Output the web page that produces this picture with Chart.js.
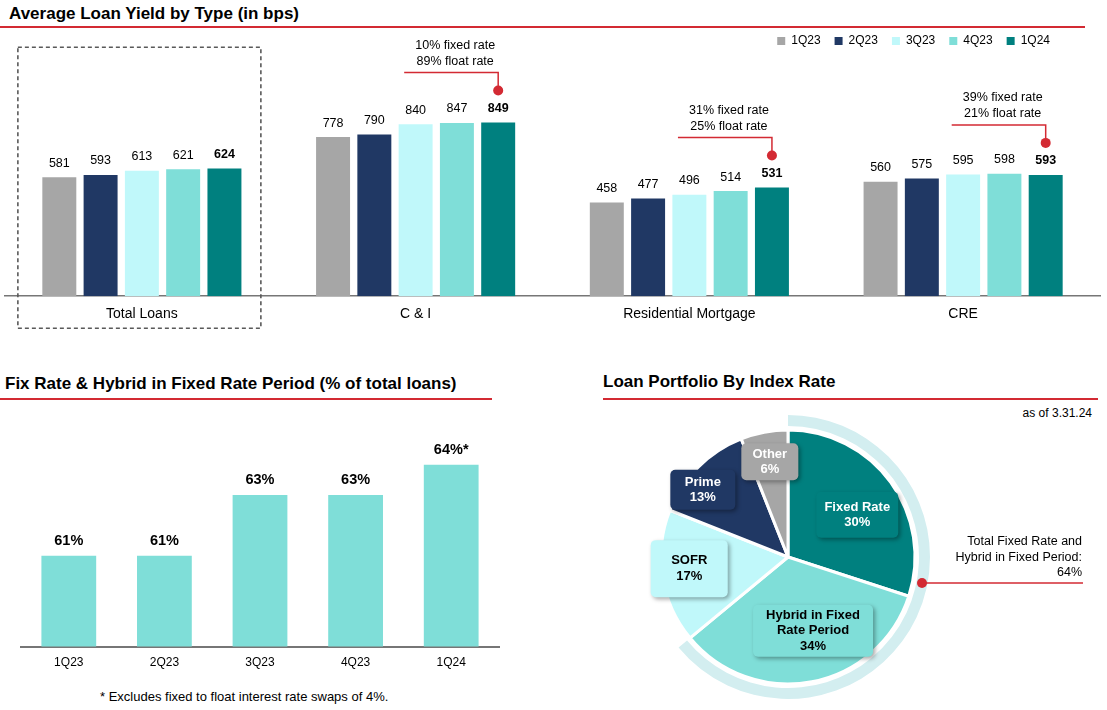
<!DOCTYPE html>
<html>
<head>
<meta charset="utf-8">
<script src="https://cdn.jsdelivr.net/npm/chart.js@4.4.1/dist/chart.umd.min.js"></script>
<style>
  body { margin: 0; width: 1107px; height: 710px; position: relative; background: #fff; overflow: hidden;
         font-family: "Liberation Sans", Arial, sans-serif; color: #000; }
  .title { position: absolute; font-weight: bold; font-size: 17px; white-space: nowrap; }
  .rule { position: absolute; height: 2px; background: #d32a33; }
  .note { position: absolute; font-size: 12px; white-space: nowrap; }
  canvas { position: absolute; }
</style>
</head>
<body>
<div class="title" style="left:9px;top:4px;">Average Loan Yield by Type (in bps)</div>
<div class="rule" style="left:0;top:26px;width:1085px;"></div>

<div class="title" style="left:5px;top:374px;">Fix Rate &amp; Hybrid in Fixed Rate Period (% of total loans)</div>
<div class="rule" style="left:0;top:398px;width:492px;"></div>

<div class="title" style="left:603px;top:372px;">Loan Portfolio By Index Rate</div>
<div class="rule" style="left:603px;top:398px;width:495px;"></div>
<div class="note" style="right:15px;top:406px;">as of 3.31.24</div>

<div class="note" style="left:100px;top:689px;font-size:13px;">* Excludes fixed to float interest rate swaps of 4%.</div>

<canvas id="yieldChart" width="1107" height="317" style="left:0;top:18px;"></canvas>
<canvas id="fixedChart" width="510" height="266" style="left:0;top:405px;"></canvas>
<canvas id="indexChart" width="507" height="305" style="left:600px;top:405px;"></canvas>

<script>
const loanTypes = ["Total Loans", "C & I", "Residential Mortgage", "CRE"];
const quarters = ["1Q23", "2Q23", "3Q23", "4Q23", "1Q24"];
const yield1Q23 = [581, 778, 458, 560];
const yield2Q23 = [593, 790, 477, 575];
const yield3Q23 = [613, 840, 496, 595];
const yield4Q23 = [621, 847, 514, 598];
const yield1Q24 = [624, 849, 531, 593];
const rateNotes = [null, ["10% fixed rate", "89% float rate"], ["31% fixed rate", "25% float rate"], ["39% fixed rate", "21% float rate"]];

const fixedQuarters = ["1Q23", "2Q23", "3Q23", "4Q23", "1Q24"];
const fixedShare = [61, 61, 63, 63, 64];
const fixedLabels = ["61%", "61%", "63%", "63%", "64%*"];

const indexNames = [["Fixed Rate"], ["Hybrid in Fixed", "Rate Period"], ["SOFR"], ["Prime"], ["Other"]];
const indexShare = [30, 34, 17, 13, 6];
const totalFixedText = ["Total Fixed Rate and", "Hybrid in Fixed Period:", "64%"];

const quarterColors = ["#a6a6a6", "#203864", "#c0f8fa", "#7fded8", "#00807f"];
const indexColors = ["#00807f", "#7fded8", "#c0f8fa", "#203864", "#a6a6a6"];
const RED = "#d32a33";

Chart.defaults.font.family = '"Liberation Sans", Arial, sans-serif';
Chart.defaults.color = "#000";
Chart.defaults.animation = false;

// value labels on top of bars
const valueLabels = {
  id: "valueLabels",
  afterDatasetsDraw(chart, args, opts) {
    const ctx = chart.ctx;
    chart.data.datasets.forEach((ds, i) => {
      chart.getDatasetMeta(i).data.forEach((bar, j) => {
        ctx.save();
        ctx.font = opts.font(i);
        ctx.fillStyle = "#000";
        ctx.textAlign = "center";
        ctx.textBaseline = "middle";
        ctx.fillText(opts.text(ds, i, j), bar.x, bar.y - opts.offset);
        ctx.restore();
      });
    });
  }
};

// nudge the legend, it sits a bit off the right edge in the original
const legendShift = {
  id: "legendShift",
  afterLayout(chart, args, opts) {
    chart.legend.left -= opts.dx;
    chart.legend.right -= opts.dx;
    chart.legend.top += opts.dy;
    chart.legend.bottom += opts.dy;
  }
};

// red callouts + dashed box on the yield chart
const yieldExtras = {
  id: "yieldExtras",
  afterDraw(chart) {
    const ctx = chart.ctx;
    const x = chart.scales.x;
    const bottom = chart.chartArea.bottom;
    ctx.save();
    ctx.strokeStyle = "#595959";
    ctx.lineWidth = 1.6;
    ctx.setLineDash([4, 3]);
    const cx = x.getPixelForValue(0);
    ctx.strokeRect(cx - 124, bottom - 249, 243, 281);
    ctx.restore();

    const meta = chart.getDatasetMeta(4);
    rateNotes.forEach((lines, j) => {
      if (!lines) return;
      const bar = meta.data[j];
      const dotY = bar.y - 32;
      const lineY = dotY - 18;
      ctx.save();
      ctx.strokeStyle = RED;
      ctx.fillStyle = RED;
      ctx.lineWidth = 1.5;
      ctx.beginPath();
      ctx.moveTo(bar.x - 94, lineY);
      ctx.lineTo(bar.x, lineY);
      ctx.lineTo(bar.x, dotY);
      ctx.stroke();
      ctx.beginPath();
      ctx.arc(bar.x, dotY, 5, 0, Math.PI * 2);
      ctx.fill();
      ctx.fillStyle = "#000";
      ctx.font = "12.5px 'Liberation Sans', Arial";
      ctx.textAlign = "center";
      ctx.textBaseline = "middle";
      ctx.fillText(lines[0], bar.x - 43, lineY - 27);
      ctx.fillText(lines[1], bar.x - 43, lineY - 11);
      ctx.restore();
    });
  }
};

new Chart("yieldChart", {
  type: "bar",
  data: {
    labels: loanTypes,
    datasets: [yield1Q23, yield2Q23, yield3Q23, yield4Q23, yield1Q24].map((d, i) => ({
      label: quarters[i],
      data: d,
      backgroundColor: quarterColors[i],
      categoryPercentage: 0.754,
      barPercentage: 0.823
    }))
  },
  options: {
    responsive: false,
    layout: { padding: { left: 5, right: 7, bottom: 10 } },
    plugins: {
      legend: {
        position: "top",
        align: "end",
        labels: { boxWidth: 8, boxHeight: 8, padding: 14, font: { size: 12 }, color: "#000" }
      },
      legendShift: { dx: 36, dy: 3 },
      tooltip: { enabled: false },
      valueLabels: {
        offset: 14,
        font: (i) => (i === 4 ? "bold 12.5px 'Liberation Sans', Arial" : "12.5px 'Liberation Sans', Arial"),
        text: (ds, i, j) => String(ds.data[j])
      }
    },
    scales: {
      x: {
        grid: { display: false },
        border: { color: "#767676", width: 1.5 },
        ticks: { font: { size: 14 }, color: "#000", padding: 2 }
      },
      y: { display: false, min: 0, max: 1184 }
    }
  },
  plugins: [valueLabels, legendShift, yieldExtras]
});

new Chart("fixedChart", {
  type: "bar",
  data: {
    labels: fixedQuarters,
    datasets: [{
      data: fixedShare,
      backgroundColor: "#7fded8",
      categoryPercentage: 1,
      barPercentage: 0.573
    }]
  },
  options: {
    responsive: false,
    layout: { padding: { left: 21, right: 11, top: 10, bottom: 0 } },
    plugins: {
      legend: { display: false },
      tooltip: { enabled: false },
      valueLabels: {
        offset: 15,
        font: () => "bold 14.5px 'Liberation Sans', Arial",
        text: (ds, i, j) => fixedLabels[j]
      }
    },
    scales: {
      x: {
        grid: { display: false },
        border: { color: "#767676", width: 2 },
        ticks: { font: { size: 12 }, color: "#000", padding: 1 }
      },
      y: { display: false, min: 58, max: 65.64 }
    }
  },
  plugins: [valueLabels]
});

// label boxes for the pie and the total fixed callout
const pieLabels = {
  id: "pieLabels",
  afterDraw(chart, args, opts) {
    const ctx = chart.ctx;
    const arcs = chart.getDatasetMeta(2).data;
    arcs.forEach((arc, i) => {
      const p = opts.place[i];
      const mid = (arc.startAngle + arc.endAngle) / 2;
      const cx = arc.x + Math.cos(mid) * p.r + p.dx;
      const cy = arc.y + Math.sin(mid) * p.r + p.dy;
      const lines = indexNames[i].concat([indexShare[i] + "%"]);
      ctx.save();
      ctx.shadowColor = "rgba(0,0,0,0.35)";
      ctx.shadowBlur = 4;
      ctx.shadowOffsetX = 2;
      ctx.shadowOffsetY = 2;
      ctx.fillStyle = indexColors[i];
      ctx.beginPath();
      ctx.roundRect(cx - p.w / 2, cy - p.h / 2, p.w, p.h, 5);
      ctx.fill();
      ctx.restore();
      ctx.save();
      ctx.fillStyle = p.light ? "#fff" : "#000";
      ctx.font = "bold 13px 'Liberation Sans', Arial";
      ctx.textAlign = "center";
      ctx.textBaseline = "middle";
      const lh = 15.5;
      lines.forEach((t, k) => {
        ctx.fillText(t, cx, cy + (k - (lines.length - 1) / 2) * lh);
      });
      ctx.restore();
    });

    const ring = chart.getDatasetMeta(0).data[0];
    const ang = (opts.calloutDeg - 90) * Math.PI / 180;
    const rr = (ring.outerRadius + ring.innerRadius) / 2;
    const dx = ring.x + Math.cos(ang) * rr;
    const dy = ring.y + Math.sin(ang) * rr;
    ctx.save();
    ctx.strokeStyle = RED;
    ctx.fillStyle = RED;
    ctx.lineWidth = 1.5;
    ctx.beginPath();
    ctx.moveTo(dx, dy);
    ctx.lineTo(dx + 161, dy);
    ctx.stroke();
    ctx.beginPath();
    ctx.arc(dx, dy, 5, 0, Math.PI * 2);
    ctx.fill();
    ctx.fillStyle = "#000";
    ctx.font = "12.5px 'Liberation Sans', Arial";
    ctx.textAlign = "right";
    ctx.textBaseline = "middle";
    totalFixedText.forEach((t, k) => ctx.fillText(t, dx + 160, dy - 41 + k * 15.5));
    ctx.restore();
  }
};

const fixedTotal = indexShare[0] + indexShare[1];
new Chart("indexChart", {
  type: "pie",
  data: {
    labels: indexNames.map((n) => n.join(" ")),
    datasets: [
      { data: [fixedTotal, 100 - fixedTotal], backgroundColor: ["#d3eef0", "rgba(0,0,0,0)"], borderWidth: 0, weight: 11 },
      { data: [100], backgroundColor: ["rgba(0,0,0,0)"], borderWidth: 0, weight: 4 },
      { data: indexShare, backgroundColor: indexColors, borderColor: "#fff", borderWidth: 3, weight: 127 }
    ]
  },
  options: {
    responsive: false,
    radius: 142,
    layout: { padding: { left: 46, right: 177, top: 10, bottom: 11 } },
    plugins: {
      legend: { display: false },
      tooltip: { enabled: false },
      pieLabels: {
        calloutDeg: 101,
        place: [
          { r: 72, dx: 11, dy: 0, w: 82, h: 46, light: true },
          { r: 75, dx: 11, dy: 0, w: 120, h: 52, light: false },
          { r: 100, dx: 0, dy: -4, w: 77, h: 57, light: false },
          { r: 95, dx: -18, dy: 0, w: 65, h: 40, light: true },
          { r: 97, dx: 0, dy: 0, w: 57, h: 37, light: true }
        ]
      }
    }
  },
  plugins: [pieLabels]
});
</script>
</body>
</html>
